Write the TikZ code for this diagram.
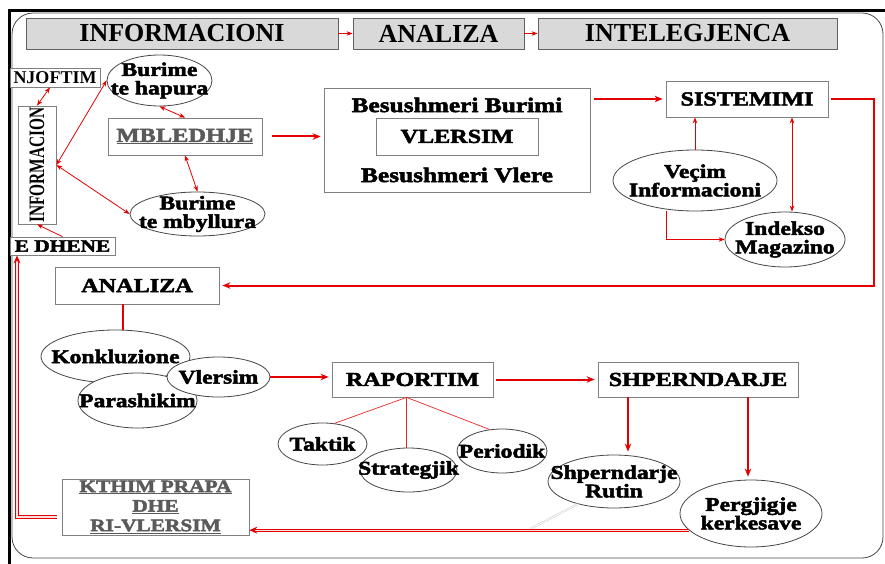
\documentclass[tikz,border=0pt]{standalone}
\usepackage{fontspec}
\setmainfont{Liberation Serif}
\newfontfamily\widefont{Liberation Serif}[FakeStretch=1.22, FakeBold=2.5]
\usetikzlibrary{shapes.geometric, arrows.meta}

\definecolor{linered}{RGB}{228,0,0}
\definecolor{hdrfill}{RGB}{217,217,217}
\definecolor{hdrline}{RGB}{96,96,96}
\definecolor{boxline}{RGB}{128,128,128}
\definecolor{ovalline}{RGB}{70,70,70}
\definecolor{greytext}{RGB}{90,90,90}

\begin{document}
\begin{tikzpicture}[
    x=1pt, y=-1pt,
    hdrbox/.style={draw=hdrline, fill=hdrfill, line width=0.8pt, inner sep=0pt, minimum height=31pt, font=\bfseries\fontsize{26}{28}\selectfont},
    block/.style={draw=boxline, fill=white, line width=0.8pt, inner sep=0pt, align=center, font=\widefont\bfseries\fontsize{19.8}{18.5}\selectfont},
    lbl/.style={inner sep=0pt, align=center, font=\widefont\bfseries\fontsize{19.3}{18.5}\selectfont},
    oval/.style n args={3}{ellipse, draw=ovalline, fill=white, line width=0.8pt, inner sep=0pt, minimum width=#1, minimum height=#2, label={[lbl]center:#3}},
    arrow/.style={draw=linered, line width=0.8pt, -{Stealth[length=6pt, width=4.5pt]}},
    twoway/.style={draw=linered, line width=0.8pt, {Stealth[length=6pt, width=4.5pt]}-{Stealth[length=6pt, width=4.5pt]}},
    thickarrow/.style={draw=linered, line width=2pt, -{Stealth[length=8pt, width=6.5pt]}, shorten >=3pt},
    thickline/.style={draw=linered, line width=2pt},
    thinline/.style={draw=linered!85, line width=0.7pt},
    backline/.style={draw=linered, line width=0.9pt, double=linered!12, double distance=1.3pt}
]
\useasboundingbox (0,0) rectangle (885,564);

% Frame
\draw[draw=ovalline, line width=0.8pt, rounded corners=21pt] (12,13) rectangle (883,558);
\draw[line width=3pt] (9.5,564) -- (9.5,11) -- (885,11);

% Header row
\node[hdrbox, minimum width=312pt] (infoh) at (182,33.5) {INFORMACIONI};
\node[hdrbox, minimum width=171pt] (analh) at (438.5,33.5) {ANALIZA};
\node[hdrbox, minimum width=299pt] (intelh) at (687.5,33.5) {INTELEGJENCA};
\draw[arrow] (infoh) -- (analh);
\draw[arrow] (analh) -- (intelh);

% Mbledhje
\node[block, minimum width=90pt, minimum height=19pt, font=\bfseries\fontsize{18}{18}\selectfont] (njoftim) at (55,77.5) {NJOFTIM};
\node[block, minimum width=38pt, minimum height=118pt, font=\bfseries\fontsize{22}{22}\selectfont] (informacion) at (37,165) {\rotatebox{90}{\scalebox{0.7}[1]{INFORMACION}}};
\node[block, minimum width=105pt, minimum height=18pt, font=\widefont\bfseries\fontsize{17.5}{18}\selectfont] (edhene) at (62.5,246) {E DHENE};
\node[oval={105pt}{51pt}{Burime\\te hapura}] (hapura) at (159.5,80.5) {};
\node[block, minimum width=154pt, minimum height=37pt, text=greytext, font=\widefont\bfseries\fontsize{20}{20}\selectfont] (mbledhje) at (185,136.5) {\underline{MBLEDHJE}};
\node[oval={135pt}{44pt}{Burime\\te mbyllura}] (mbyllura) at (197.5,214) {};

\draw[twoway] ([xshift=-5pt]njoftim.south) -- (informacion.north);
\draw[twoway] (informacion.east) -- (hapura.west);
\draw[twoway] (informacion.east) -- (mbyllura.west);
\draw[arrow] (edhene.north) -- (informacion.south);
\draw[twoway] (hapura.south) -- (mbledhje.north);
\draw[twoway] (mbledhje.south) -- (mbyllura.north);

% Vlersim
\node[block, minimum width=266pt, minimum height=104pt] (vlersim) at (457,140) {};
\node[lbl, font=\widefont\bfseries\fontsize{20.8}{20}\selectfont] (burimi) at (457,105) {Besushmeri Burimi};
\node[block, minimum width=162pt, minimum height=37pt] (vlersimin) at (457,136.5) {VLERSIM};
\node[lbl, font=\widefont\bfseries\fontsize{20.8}{20}\selectfont] (vlere) at (457,175) {Besushmeri Vlere};
\draw[thickarrow] ([xshift=10pt]mbledhje.east) -- (mbledhje.east -| vlersim.west);

% Sistemimi
\node[block, minimum width=162pt, minimum height=36pt] (sistemimi) at (747,99) {SISTEMIMI};
\node[oval={164pt}{61pt}{Veçim\\Informacioni}] (vecim) at (695,180.5) {};
\node[oval={120pt}{55pt}{Indekso\\Magazino}] (indekso) at (785,239.5) {};

\draw[thickarrow] ([xshift=4pt]vlersim.east |- sistemimi.west) -- (sistemimi.west);
\draw[arrow] (vecim.north) -- (vecim.north |- sistemimi.south);
\draw[twoway] ([xshift=45pt]sistemimi.south) -- ([xshift=45pt]sistemimi.south |- indekso.north);
\draw[arrow] ([xshift=-29pt]vecim.south) |- (indekso.west);

% Analiza
\node[block, minimum width=164pt, minimum height=37pt] (analiza) at (137,285.5) {ANALIZA};
\node[oval={149pt}{53pt}{Konkluzione}] (konk) at (115.5,356.5) {};
\node[oval={119pt}{55pt}{Parashikim}] (parash) at (137.5,400.5) {};
\node[oval={103pt}{40pt}{Vlersim}] (vlersimE) at (218.5,377) {};
\draw[thickarrow] ([xshift=3pt]sistemimi.east) -- ++(43,0) |- (analiza.east);
\draw[thickline] ([xshift=-14pt]analiza.south) -- ([xshift=-14pt]analiza.south |- konk.north);

% Raportim
\node[block, minimum width=161pt, minimum height=35pt] (raportim) at (412.5,379.5) {RAPORTIM};
\node[block, minimum width=200pt, minimum height=35pt] (shperndarje) at (698,379.5) {SHPERNDARJE};
\node[oval={89pt}{42pt}{Taktik}] (taktik) at (322.5,444) {};
\node[oval={97pt}{44pt}{Strategjik}] (strategjik) at (408.5,470) {};
\node[oval={90pt}{44pt}{Periodik}] (periodik) at (502,451) {};
\node[oval={132pt}{53pt}{Shperndarje\\Rutin}] (rutin) at (614,481.5) {};
\node[oval={142pt}{67pt}{Pergjigje\\kerkesave}] (pergjigje) at (751,513.5) {};

\draw[thickarrow] (vlersimE.east) -- (vlersimE.east -| raportim.west);
\draw[thickarrow] ([xshift=3pt]raportim.east) -- (shperndarje.west);
\coordinate (rp) at ([xshift=-6pt]raportim.south);
\draw[thinline] (rp) -- (taktik.60);
\draw[thinline] (rp) -- (rp |- strategjik.north);
\draw[thinline] (rp) -- (periodik.120);
\draw[thickarrow] ([xshift=-70pt]shperndarje.south) -- ([xshift=-70pt]shperndarje.south |- rutin.north);
\draw[thickarrow] ([xshift=50pt]shperndarje.south) -- ([xshift=50pt]shperndarje.south |- pergjigje.north);

% Kthim prapa
\node[block, minimum width=187pt, minimum height=56pt, text=greytext, font=\widefont\bfseries\fontsize{17.5}{19.5}\selectfont] (kthim) at (155.5,507) {\underline{KTHIM PRAPA}\\\underline{DHE}\\\underline{RI-VLERSIM}};
\coordinate (junc) at (530,529);
\draw[draw=black!25, line width=0.4pt, double=white, double distance=1pt] (rutin.212) -- (junc);
\draw[backline, -{Stealth[length=8pt, width=7pt]}] (pergjigje.195) -- (pergjigje.195 -| kthim.east);
\draw[backline, -{Stealth[length=8pt, width=7pt]}] ([xshift=-5pt, yshift=-10pt]kthim.west) -| ([xshift=-45.5pt]edhene.south);

\end{tikzpicture}
\end{document}
